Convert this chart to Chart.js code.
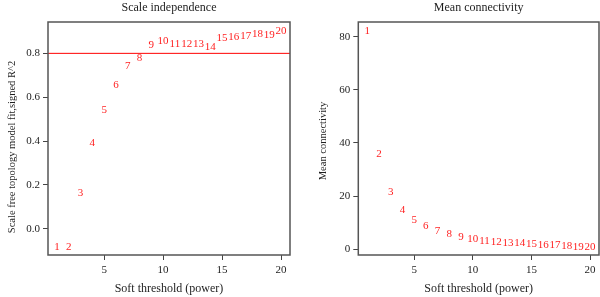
<!doctype html>
<html lang="en">
<head>
<meta charset="utf-8">
<title>Soft threshold selection</title>
<script src="https://cdn.jsdelivr.net/npm/chart.js@4.4.1/dist/chart.umd.min.js"></script>
<style>
  * { box-sizing: border-box; }
  body { margin: 0; background: #ffffff; }
  .wrap { display: flex; width: 600px; height: 297px; }
  .panel { width: 300px; height: 297px; position: relative; }
  canvas { display: block; }
</style>
</head>
<body>
<div class="wrap">
  <div class="panel"><canvas id="scaleChart" width="300" height="297"></canvas></div>
  <div class="panel"><canvas id="connChart" width="300" height="297"></canvas></div>
</div>
<script>
// soft threshold powers
const powers = [1, 2, 3, 4, 5, 6, 7, 8, 9, 10, 11, 12, 13, 14, 15, 16, 17, 18, 19, 20];
// -sign(slope) * R^2
const scaleFit = [-0.085, -0.085, 0.164, 0.391, 0.54, 0.656, 0.741, 0.779, 0.838, 0.858,
  0.84, 0.843, 0.843, 0.83, 0.87, 0.876, 0.879, 0.888, 0.882, 0.9];
// mean connectivity
const meanConn = [81.9, 35.8, 21.4, 14.7, 10.9, 8.7, 6.9, 5.5, 4.5, 3.7,
  2.9, 2.6, 2.4, 2.1, 1.9, 1.6, 1.4, 1.1, 0.9, 0.75];
const rCutoff = 0.8;

const xMin = 0.24, xMax = 20.76;
const xTicks = [5, 10, 15, 20];
const scaleTicks = [0.0, 0.2, 0.4, 0.6, 0.8];
const connTicks = [0, 20, 40, 60, 80];

const SERIF = "'Liberation Serif', 'DejaVu Serif', serif";
const INK = '#1e1e1e';
const RED = '#ff1f1f';

function panelPlugin(opts) {
  return {
    id: 'panel',
    afterDatasetsDraw(chart) {
      const ctx = chart.ctx;
      const a = chart.chartArea;

      ctx.save();
      // number labels at each point
      ctx.fillStyle = RED;
      ctx.font = '11px ' + SERIF;
      ctx.textAlign = 'center';
      ctx.textBaseline = 'middle';
      chart.getDatasetMeta(0).data.forEach(function (pt, i) {
        ctx.fillText(String(powers[i]), pt.x, pt.y);
      });

      // box
      ctx.strokeStyle = '#555';
      ctx.lineWidth = 1.5;
      ctx.strokeRect(a.left, a.top, a.right - a.left, a.bottom - a.top);

      // titles
      ctx.fillStyle = INK;
      ctx.font = '12px ' + SERIF;
      const cx = (a.left + a.right) / 2;
      ctx.fillText(opts.title, cx, 8);
      ctx.fillText('Soft threshold (power)', cx, 289);

      ctx.translate(opts.yTitleX, opts.yTitleY);
      ctx.rotate(-Math.PI / 2);
      ctx.font = '10.5px ' + SERIF;
      ctx.fillText(opts.yTitle, 0, 0);
      ctx.restore();
    }
  };
}

function makeChart(id, values, yMin, yMax, yTicks, fmt, axisWidth, padRight, opts) {
  const datasets = [{
    data: powers.map(function (p, i) { return { x: p, y: values[i] }; }),
    pointRadius: 0,
    pointHoverRadius: 0,
  }];
  if (opts.cutoff !== undefined) {
    datasets.push({
      type: 'line',
      data: [{ x: xMin, y: opts.cutoff }, { x: xMax, y: opts.cutoff }],
      borderColor: '#ff0000',
      borderWidth: 1,
      pointRadius: 0,
      fill: false,
    });
  }
  return new Chart(document.getElementById(id), {
    type: 'scatter',
    data: { datasets: datasets },
    options: {
      responsive: false,
      animation: false,
      events: [],
      layout: { padding: { top: 22, right: padRight, left: 0, bottom: 0 } },
      plugins: { legend: { display: false }, tooltip: { enabled: false } },
      scales: {
        x: {
          type: 'linear',
          min: xMin,
          max: xMax,
          afterBuildTicks: function (s) { s.ticks = xTicks.map(function (v) { return { value: v }; }); },
          afterFit: function (s) { s.height = 42; },
          border: { display: false },
          grid: { drawOnChartArea: false, tickLength: 5, color: '#444' },
          ticks: { color: INK, font: { family: SERIF, size: 11 }, padding: 4, maxRotation: 0 },
        },
        y: {
          type: 'linear',
          min: yMin,
          max: yMax,
          afterBuildTicks: function (s) { s.ticks = yTicks.map(function (v) { return { value: v }; }); },
          afterFit: function (s) { s.width = axisWidth; },
          border: { display: false },
          grid: { drawOnChartArea: false, tickLength: 5, color: '#444' },
          ticks: { color: INK, font: { family: SERIF, size: 11 }, padding: 3, callback: fmt },
        },
      },
    },
    plugins: [panelPlugin(opts)],
  });
}

makeChart('scaleChart', scaleFit, -0.12, 0.943, scaleTicks,
  function (v) { return Number(v).toFixed(1); }, 48, 10,
  { title: 'Scale independence', yTitle: 'Scale free topology model fit,signed R^2',
    yTitleX: 12, yTitleY: 147, cutoff: rCutoff });

makeChart('connChart', meanConn, -2.2, 85.5, connTicks,
  function (v) { return String(v); }, 58.3, 1,
  { title: 'Mean connectivity', yTitle: 'Mean connectivity', yTitleX: 23.3, yTitleY: 141 });
</script>
</body>
</html>
